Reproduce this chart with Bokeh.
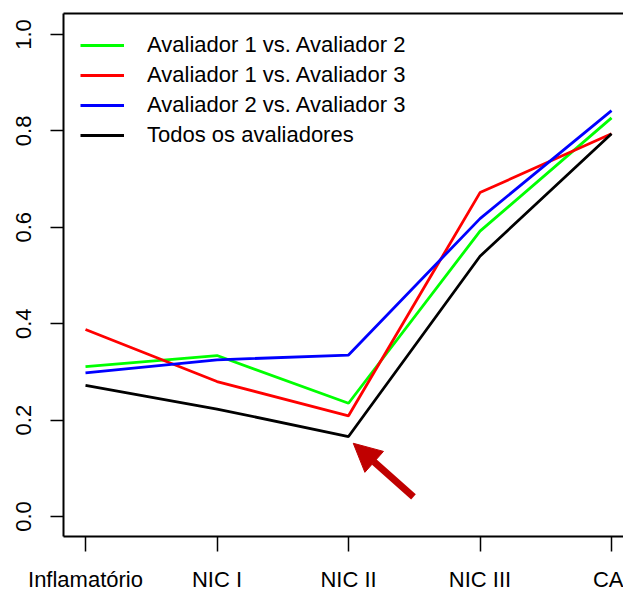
from bokeh.plotting import figure
from bokeh.models import (Range1d, FixedTicker, LinearAxis, Legend, LegendItem,
                          Arrow, NormalHead)
from bokeh.embed import file_html
from bokeh.resources import INLINE

categories = ["Inflamatório", "NIC I", "NIC II", "NIC III", "CA"]
av1_vs_av2 = [0.311, 0.334, 0.235, 0.592, 0.827]
av1_vs_av3 = [0.388, 0.280, 0.209, 0.672, 0.794]
av2_vs_av3 = [0.298, 0.325, 0.335, 0.618, 0.842]
todos = [0.272, 0.223, 0.166, 0.540, 0.794]
series_names = ["Avaliador 1 vs. Avaliador 2", "Avaliador 1 vs. Avaliador 3",
                "Avaliador 2 vs. Avaliador 3", "Todos os avaliadores"]
series_colors = ["#00ff00", "#ff0000", "#0000ff", "#000000"]
y_ticks = [0.0, 0.2, 0.4, 0.6, 0.8, 1.0]
# arrow annotation (data coords)
arrow_start = (3.494, 0.041)
arrow_end = (3.036, 0.152)

FONT = "Liberation Sans"
x = list(range(1, len(categories) + 1))

p = figure(width=623, height=594, output_backend="svg", toolbar_location=None,
           x_range=Range1d(0.8327, 5.091), y_range=Range1d(-0.0414, 1.0435),
           min_border_left=63, min_border_right=0, min_border_top=13,
           min_border_bottom=57, x_axis_location=None, y_axis_location=None)
p.outline_line_color = None
p.xgrid.visible = False
p.ygrid.visible = False
p.background_fill_color = "white"
p.border_fill_color = "white"

renderers = []
for vals, c in zip([av1_vs_av2, av1_vs_av3, av2_vs_av3, todos], series_colors):
    r = p.line(x, vals, line_color=c, line_width=2.8)
    renderers.append(r)

# axes
yax = LinearAxis(ticker=FixedTicker(ticks=y_ticks),
                 major_label_overrides={t: f"{t:.1f}" for t in y_ticks})
yax.major_label_orientation = "vertical"
yax.major_label_text_font = FONT
yax.major_label_text_font_size = "22px"
yax.major_label_text_color = "black"
yax.major_tick_out = 13
yax.major_tick_in = 0
yax.minor_tick_out = 0
yax.minor_tick_in = 0
yax.major_tick_line_width = 1.5
yax.axis_line_width = 2
yax.major_label_standoff = 19
p.add_layout(yax, "left")

xax = LinearAxis(ticker=FixedTicker(ticks=x),
                 major_label_overrides={i: c for i, c in zip(x, categories)})
xax.major_label_text_font = FONT
xax.major_label_text_font_size = "22px"
xax.major_label_text_color = "black"
xax.major_tick_out = 15
xax.major_tick_in = 0
xax.minor_tick_out = 0
xax.minor_tick_in = 0
xax.major_tick_line_width = 1.5
xax.axis_line_width = 2
xax.major_label_standoff = 15
p.add_layout(xax, "below")

tax = LinearAxis(ticker=FixedTicker(ticks=[]), major_label_text_font_size="0px",
                 major_tick_out=0, major_tick_in=0, minor_tick_out=0, minor_tick_in=0,
                 major_label_standoff=0, axis_line_width=2)
p.add_layout(tax, "above")

legend = Legend(items=[LegendItem(label=n, renderers=[r]) for n, r in zip(series_names, renderers)],
                location=(17, 386), orientation="vertical",
                background_fill_alpha=0, border_line_color=None,
                label_text_font=FONT, label_text_font_size="22px",
                label_text_color="black",
                glyph_width=44, glyph_height=30, label_height=30,
                label_standoff=23, spacing=0, padding=0, margin=0)
p.add_layout(legend)

p.add_layout(Arrow(end=NormalHead(size=28, fill_color="#c00000", line_color="#c00000"),
                   x_start=arrow_start[0], y_start=arrow_start[1],
                   x_end=arrow_end[0], y_end=arrow_end[1],
                   line_color="#c00000", line_width=7))

open("out.html", "w").write(file_html(p, INLINE))
